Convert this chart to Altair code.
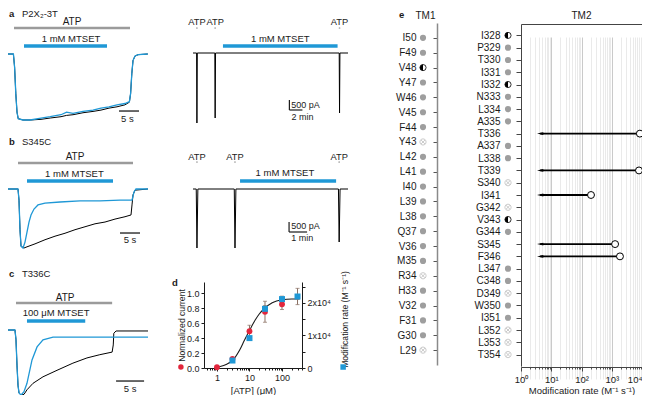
import altair as alt
import pandas as pd

# ------------------------------------------------------------------ data
# a (left) P2X2-3T : current (fraction of peak) vs time (s)
A_T = [0, 2.1, 2.4, 2.7, 3.0, 3.3, 4.5, 6.3, 9, 11.3, 14, 15.4, 17, 19.5, 22, 24, 26, 28, 30, 31.1, 31.4, 31.7, 32.0, 32.5, 33.3, 35.7]
A_BLUE = [0, 0, -0.2, -0.6, -0.88, -0.98, -1.0, -1.0, -0.97, -0.95, -0.92, -0.88, -0.9, -0.87, -0.85, -0.82, -0.8, -0.77, -0.75, -0.72, -0.6, -0.3, -0.1, -0.03, -0.01, 0]
A_BLACK = [0, 0, -0.2, -0.6, -0.88, -0.98, -1.0, -1.0, -0.99, -0.97, -0.95, -0.93, -0.92, -0.89, -0.87, -0.85, -0.82, -0.8, -0.77, -0.73, -0.6, -0.3, -0.1, -0.03, -0.01, 0]
A_ATP = [2.25, 31.25]
A_MTSET = [4.75, 25.5]

# a (right): current (pA) vs time (min)
AR_T = [0, 0.55, 0.6, 0.66, 3.35, 3.4, 3.46, 22.45, 22.5, 22.56, 23.8]
AR_I = [0, 0, -3500, 0, 0, -3250, 0, 0, -3000, 0, 0]
AR_ATP = [0.6, 3.4, 22.5]
AR_MTSET = [4.6, 22.2]

# b (left) S345C
B_T_BLUE = [0, 3.5, 3.75, 4.0, 4.25, 4.75, 5.25, 5.75, 6.25, 6.75, 7.5, 8.5, 10.25, 14, 19, 24, 29, 32, 32.25, 32.5, 33, 36]
B_BLUE = [0, 0, -0.19, -0.69, -0.97, -1.0, -0.9, -0.73, -0.56, -0.44, -0.34, -0.27, -0.24, -0.22, -0.2, -0.2, -0.19, -0.19, -0.12, -0.05, 0, 0]
B_T_BLACK = [0, 3.5, 3.75, 4.0, 4.25, 5.0, 5.75, 7.75, 10.25, 12.75, 15.25, 17.75, 20.25, 22.75, 25.25, 27.75, 30.25, 31.75, 32.0, 32.25, 32.75, 36]
B_BLACK = [0, 0, -0.19, -0.69, -0.97, -1.0, -0.98, -0.93, -0.86, -0.8, -0.75, -0.69, -0.64, -0.59, -0.56, -0.51, -0.47, -0.44, -0.27, -0.1, -0.02, 0]
B_ATP = [3.5, 32.25]
B_MTSET = [5.75, 27.25]

# b (right)
BR_T = [0, 0.18, 0.22, 0.27, 2.29, 2.33, 2.38, 8.07, 8.11, 8.16, 8.6]
BR_I = [0, 0, -2950, 0, 0, -2950, 0, 0, -2650, 0, 0]
BR_ATP = [0.22, 2.33, 8.11]
BR_MTSET = [2.61, 7.94]

# c T336C
C_T_BLUE = [0, 1.96, 2.14, 2.32, 2.5, 2.68, 3.04, 3.57, 4.1, 5.0, 5.9, 6.96, 8.75, 13.6, 19.3, 25.7]
C_BLUE = [0, 0, -0.15, -0.54, -0.85, -0.97, -1.0, -0.95, -0.82, -0.46, -0.26, -0.15, -0.11, -0.11, -0.11, -0.11]
C_T_BLACK = [0, 1.96, 2.14, 2.32, 2.5, 2.68, 3.04, 3.57, 4.1, 5.18, 6.96, 9.46, 12.3, 14.8, 17.1, 19.3, 19.5, 19.6, 20.0, 25.7]
C_BLACK = [0, 0, -0.15, -0.54, -0.85, -0.97, -1.0, -0.99, -0.92, -0.82, -0.72, -0.62, -0.51, -0.43, -0.38, -0.34, -0.23, -0.05, -0.015, -0.015]
C_ATP = [2.14, 19.3]
C_MTSET = [4.1, 14.5]

# d dose response
CUR_ATP = [1, 3, 10, 30, 100]
CUR_VAL = [0.01, 0.12, 0.49, 0.75, 0.85]
CUR_ERR = [0.0, 0.02, 0.08, 0.14, 0.07]
RATE_ATP = [3, 10, 30, 100, 300]
RATE_VAL = [2300, 9200, 18200, 21200, 22000]
RATE_ERR = [0, 0, 1000, 900, 2500]
FIT_ATP = [0.9, 1, 2, 3, 5, 7, 10, 15, 20, 30, 50, 100, 200, 350]
FIT_VAL = [0.005, 0.01, 0.05, 0.1, 0.24, 0.37, 0.5, 0.64, 0.72, 0.8, 0.87, 0.91, 0.92, 0.92]
D_MINOR = [0.5, 0.6, 0.7, 0.8, 0.9, 2, 3, 4, 5, 6, 7, 8, 9, 20, 30, 40, 50, 60, 70, 80, 90, 200, 300, 400]

# e  residues (f filled, h half, x crossed, n none)
TM1_RES = ["I50", "F49", "V48", "Y47", "W46", "V45", "F44", "Y43", "L42", "L41", "I40",
           "L39", "L38", "Q37", "V36", "M35", "R34", "H33", "V32", "F31", "G30", "L29"]
TM1_KIND = ["f", "f", "h", "f", "f", "f", "f", "x", "f", "f", "f",
            "f", "f", "f", "f", "f", "x", "f", "f", "f", "f", "x"]
TM2_RES = ["I328", "P329", "T330", "I331", "I332", "N333", "L334", "A335", "T336", "A337",
           "L338", "T339", "S340", "I341", "G342", "V343", "G344", "S345", "F346", "L347",
           "C348", "D349", "W350", "I351", "L352", "L353", "T354"]
TM2_KIND = ["h", "f", "f", "f", "h", "f", "f", "f", "n", "f",
            "f", "n", "x", "n", "x", "h", "f", "n", "n", "f",
            "f", "x", "f", "f", "x", "x", "x"]
RATE_RES = ["T336", "T339", "I341", "S345", "F346"]
RATE_E = [8500, 7950, 206, 1290, 1870]
ARROW_END = 4.3
E_MINOR = [m * 10 ** k for k in range(4) for m in range(2, 10)]

# ------------------------------------------------------------------ style
FONT = "Liberation Sans"
BLUE = "#1f98d6"
RED = "#e2263c"
GREY = "#9b9b9b"
INK = "#1a1a1a"
M = 8
W, H = 634, 387


def P(v):
    return v - M


def lin(domain, r0, r1):
    return alt.Scale(type="linear", domain=domain, range=[P(r0), P(r1)], nice=False, zero=False)


def logs(domain, r0, r1):
    return alt.Scale(type="log", domain=domain, range=[P(r0), P(r1)], nice=False)


def XY(xs, ys, xa=None, ya=None, xf="x", yf="y", yt="Q"):
    return dict(x=alt.X(f"{xf}:Q", scale=xs, axis=xa), y=alt.Y(f"{yf}:{yt}", scale=ys, axis=ya))


def line(xs, ys, xv, yv, color, width, interp="linear", xa=None, ya=None):
    df = pd.DataFrame({"x": xv, "y": yv, "i": list(range(len(xv)))})
    return alt.Chart(df).mark_line(color=color, strokeWidth=width, interpolate=interp).encode(
        order="i:Q", **XY(xs, ys, xa, ya))


def seg(xs, ys, x0, x1, y0, y1, color, width):
    df = pd.DataFrame({"x": x0, "x2": x1, "y": y0, "y2": y1})
    return alt.Chart(df).mark_rule(color=color, strokeWidth=width).encode(
        x2="x2:Q", y2="y2:Q", **XY(xs, ys))


def txt(xs, ys, xv, yv, s, size=9.5, align="center", weight="normal", color=INK):
    df = pd.DataFrame({"x": xv, "y": yv, "s": s})
    return alt.Chart(df).mark_text(font=FONT, fontSize=size, align=align, baseline="middle",
                                   fontWeight=weight, color=color).encode(text="s:N", **XY(xs, ys))


def dots(xs, ys, xv, yv):
    df = pd.DataFrame({"x": xv, "y": yv})
    return alt.Chart(df).mark_point(filled=True, size=3, color="#777").encode(**XY(xs, ys))


layers = []

# ------------------------------------------------------------------ a left
xa = lin([0, 36], 5, 149)
ya = lin([-1, 0], 120, 54)
layers += [
    line(xa, ya, A_T, A_BLACK, "black", 1.0),
    line(xa, ya, A_T, A_BLUE, BLUE, 1.3),
    seg(xa, ya, [A_ATP[0]], [A_ATP[1]], [0.394], [0.394], GREY, 2.5),
    seg(xa, ya, [A_MTSET[0]], [A_MTSET[1]], [0.121], [0.121], BLUE, 3.5),
    seg(xa, ya, [28.5], [33.5], [-0.864], [-0.864], INK, 1.3),
    txt(xa, ya, [16.75], [0.485], ["ATP"], size=10),
    txt(xa, ya, [16.5, 30.6], [0.227, -0.985], ["1 mM MTSET", "5 s"]),
    txt(xa, ya, [1.0], [0.6], ["a"], weight="bold", align="left"),
    txt(xa, ya, [4.25], [0.6], ["P2X₂-3T"], align="left"),
]

# ------------------------------------------------------------------ a right
xar = lin([0, 23.8], 193, 348)
yar = lin([-3500, 0], 123, 53)
layers += [
    line(xar, yar, AR_T, AR_I, "black", 1.0),
    seg(xar, yar, [AR_MTSET[0]], [AR_MTSET[1]], [350], [350], BLUE, 3.5),
    seg(xar, yar, [14.8, 14.8], [14.8, 16.8], [-2850, -2850], [-2350, -2850], INK, 1.2),
    txt(xar, yar, AR_ATP, [1550] * 3, ["ATP"] * 3, size=9.3),
    dots(xar, yar, AR_ATP, [1250] * 3),
    txt(xar, yar, [13.4], [700], ["1 mM MTSET"]),
    txt(xar, yar, [15.1], [-2600], ["500 pA"], size=9, align="left"),
    txt(xar, yar, [16.8], [-3200], ["2 min"], size=9),
]

# ------------------------------------------------------------------ b left
xb = lin([0, 36], 4, 148)
yb = lin([-1, 0], 248, 189)
layers += [
    line(xb, yb, B_T_BLACK, B_BLACK, "black", 1.0),
    line(xb, yb, B_T_BLUE, B_BLUE, BLUE, 1.3),
    seg(xb, yb, [B_ATP[0]], [B_ATP[1]], [0.44], [0.44], GREY, 2.5),
    seg(xb, yb, [B_MTSET[0]], [B_MTSET[1]], [0.136], [0.136], BLUE, 3.5),
    seg(xb, yb, [29], [34], [-0.746], [-0.746], INK, 1.3),
    txt(xb, yb, [17.75], [0.54], ["ATP"], size=10),
    txt(xb, yb, [17.6, 31.5], [0.254, -0.864], ["1 mM MTSET", "5 s"]),
    txt(xb, yb, [1.25], [0.797], ["b"], weight="bold", align="left"),
    txt(xb, yb, [4.5], [0.797], ["S345C"], align="left"),
]

# ------------------------------------------------------------------ b right
xbr = lin([0, 8.6], 193, 348)
ybr = lin([-3000, 0], 249, 189)
layers += [
    line(xbr, ybr, BR_T, BR_I, "black", 1.0),
    seg(xbr, ybr, [BR_MTSET[0]], [BR_MTSET[1]], [400], [400], BLUE, 3.5),
    seg(xbr, ybr, [5.33, 5.33], [5.33, 6.33], [-2150, -2150], [-1650, -2150], INK, 1.2),
    txt(xbr, ybr, BR_ATP, [1600] * 3, ["ATP"] * 3, size=9.3),
    dots(xbr, ybr, BR_ATP, [1350] * 3),
    txt(xbr, ybr, [5.1], [800], ["1 mM MTSET"]),
    txt(xbr, ybr, [5.45], [-1850], ["500 pA"], size=9, align="left"),
    txt(xbr, ybr, [6.06], [-2450], ["1 min"], size=9),
]

# ------------------------------------------------------------------ c
xc = lin([0, 25.7], 4, 148)
yc = lin([-1, 0], 395, 330)
layers += [
    line(xc, yc, C_T_BLACK, C_BLACK, "black", 1.0),
    line(xc, yc, C_T_BLUE, C_BLUE, BLUE, 1.3),
    seg(xc, yc, [C_ATP[0]], [C_ATP[1]], [0.415], [0.415], GREY, 2.5),
    seg(xc, yc, [C_MTSET[0]], [C_MTSET[1]], [0.138], [0.138], BLUE, 3.5),
    seg(xc, yc, [20], [25], [-0.785], [-0.785], INK, 1.3),
    txt(xc, yc, [10.9], [0.49], ["ATP"], size=10),
    txt(xc, yc, [9.3, 22.5], [0.26, -0.91], ["100 μM MTSET", "5 s"]),
    txt(xc, yc, [0.9], [0.86], ["c"], weight="bold", align="left"),
    txt(xc, yc, [3.2], [0.86], ["T336C"], align="left"),
]

# ------------------------------------------------------------------ d
xd = logs([0.4, 412], 204, 302)
yd = lin([0, 1.147], 368, 282)
yd2 = lin([0, 26460], 368, 282)
d_xaxis = alt.Axis(orient="bottom", offset=P(368) - H, values=[1, 10, 100], format="d", tickSize=3,
                   labelPadding=2, labelFlush=False, labelFontSize=9, title="[ATP] (μM)", titlePadding=3)
d_yaxis = alt.Axis(orient="left", offset=-P(204), values=[0, 0.2, 0.4, 0.6, 0.8, 1.0], format=".1f",
                   tickSize=3, labelPadding=2, labelFontSize=9, title="Normalized current", titleAngle=270,
                   titleFontSize=8.6, titleX=P(181) - P(204), titleY=P(325), titleBaseline="middle",
                   titleAlign="center")
layers.append(line(xd, yd, FIT_ATP, FIT_VAL, INK, 1.1, interp="monotone", xa=d_xaxis, ya=d_yaxis))

cur_df = pd.DataFrame({"x": CUR_ATP, "y": CUR_VAL, "lo": [v - e for v, e in zip(CUR_VAL, CUR_ERR)],
                       "hi": [v + e for v, e in zip(CUR_VAL, CUR_ERR)], "e": CUR_ERR})
rate_df = pd.DataFrame({"x": RATE_ATP, "y": RATE_VAL, "lo": [v - e for v, e in zip(RATE_VAL, RATE_ERR)],
                        "hi": [v + e for v, e in zip(RATE_VAL, RATE_ERR)], "e": RATE_ERR})
ERRC = "#8a6f62"
for df, ys in ((cur_df, yd), (rate_df, yd2)):
    dfe = df[df["e"] > 0]
    layers.append(alt.Chart(dfe).mark_rule(color=ERRC, strokeWidth=1).encode(
        x=alt.X("x:Q", scale=xd, axis=None), y=alt.Y("lo:Q", scale=ys, axis=None), y2="hi:Q"))
    for col in ("lo", "hi"):
        layers.append(alt.Chart(dfe).mark_point(shape="stroke", size=16, color=ERRC, strokeWidth=1).encode(
            x=alt.X("x:Q", scale=xd, axis=None), y=alt.Y(f"{col}:Q", scale=ys, axis=None)))

layers.append(alt.Chart(cur_df).mark_point(filled=True, shape="circle", size=34, color=RED, opacity=1).encode(
    x=alt.X("x:Q", scale=xd, axis=alt.Axis(orient="bottom", offset=P(368) - H, values=D_MINOR, labels=False,
                                           tickSize=2, domain=False, title=None)),
    y=alt.Y("y:Q", scale=yd, axis=None)))
layers.append(alt.Chart(rate_df).mark_point(filled=True, shape="square", size=36, color=BLUE, opacity=1).encode(
    x=alt.X("x:Q", scale=xd, axis=None),
    y=alt.Y("y:Q", scale=yd2, axis=alt.Axis(
        orient="right", offset=P(302) - W, values=[0, 5000, 10000, 15000, 20000, 25000],
        labelExpr="datum.value == 0 ? '0' : datum.value == 10000 ? '1x10⁴' : datum.value == 20000 ? '2x10⁴' : ''",
        tickSize=3, labelPadding=2, labelFontSize=9, title="Modification rate (M⁻¹ s⁻¹)", titleAngle=270,
        titleFontSize=8.6, titleX=P(344) - P(302), titleY=P(319), titleBaseline="middle",
        titleAlign="center"))))
# legend-like markers at the start of the axis titles, and panel letter
layers.append(alt.Chart(pd.DataFrame({"x": [0.078], "y": [0.013]})).mark_point(
    filled=True, size=30, color=RED, opacity=1).encode(**XY(xd, yd)))
layers.append(alt.Chart(pd.DataFrame({"x": [7570], "y": [0.013]})).mark_point(
    filled=True, shape="square", size=30, color=BLUE, opacity=1).encode(**XY(xd, yd)))
layers.append(txt(xd, yd, [0.0414], [1.133], ["d"], weight="bold", align="left"))

# ------------------------------------------------------------------ e  TM1
HALF = "M0,-1A1,1,0,0,0,0,1Z"
CROSS = "M1,0A1,1,0,1,1,-1,0A1,1,0,1,1,1,0ZM-0.7,-0.7L0.7,0.7M-0.7,0.7L0.7,-0.7"
SYM = 38


def symbol_layers(res, kind, ys, xs, yaxis=None, xaxis=None):
    df = pd.DataFrame({"y": res, "k": kind, "x": [0] * len(res)})
    out = []
    f = df[df.k == "f"]
    out.append(alt.Chart(f).mark_point(filled=True, shape="circle", size=SYM, color="#9e9e9e", opacity=1).encode(
        **XY(xs, ys, xaxis, yaxis, yt="N")))
    h = df[df.k == "h"]
    out.append(alt.Chart(h).mark_point(filled=True, shape="circle", size=SYM, fill="white", stroke="black",
                                       strokeWidth=0.8, opacity=1).encode(**XY(xs, ys, yt="N")))
    out.append(alt.Chart(h).mark_point(filled=True, shape=HALF, size=SYM, color="black", opacity=1).encode(
        **XY(xs, ys, yt="N")))
    x = df[df.k == "x"]
    out.append(alt.Chart(x).mark_point(filled=False, shape=CROSS, size=SYM, color="#bdbdbd", strokeWidth=0.8,
                                       opacity=1).encode(**XY(xs, ys, yt="N")))
    return out


ye1 = alt.Scale(type="point", domain=TM1_RES, range=[P(23), P(365)], padding=1.0)
xe1 = lin([0, 1], 423, 437)
tm1_y = alt.Axis(orient="left", offset=-P(437), tickSize=4, labelPadding=17, domainColor="#8a8a8a",
                 domainWidth=1.5, tickColor="#555555", title=None, labelFontSize=10)
tm1_x = alt.Axis(orient="top", offset=-P(21), domain=False, ticks=False, labels=False, title="TM1",
                 titleX=P(425), titleY=P(15) - P(21), titleBaseline="middle", titleFontSize=10)
layers += symbol_layers(TM1_RES, TM1_KIND, ye1, xe1, tm1_y, tm1_x)

# ------------------------------------------------------------------ e  TM2
xe2 = logs([1, 10000], 521, 642)
ye2 = alt.Scale(type="point", domain=TM2_RES, range=[P(24), P(366)], padding=0.93)
rate_e = pd.DataFrame({"y": RATE_RES, "x": RATE_E, "x2": [ARROW_END] * len(RATE_E)})
minor_axis = alt.Axis(orient="bottom", offset=P(367) - H, values=E_MINOR, labels=False, tickSize=2,
                      domain=False, title=None, grid=True, gridColor="#e4e4e4", gridWidth=0.8,
                      tickColor="#555555")
major_axis = alt.Axis(orient="bottom", offset=P(367) - H, values=[1, 10, 100, 1000, 10000],
                      labelExpr="'10' + ['⁰','¹','²','³','⁴'][round(log(datum.value) / LN10)]",
                      labelFlush=False,
                      labelAlign={"condition": {"test": "datum.value == 10000", "value": "right"},
                                  "value": "center"},
                      tickSize=4, labelPadding=3, grid=True, gridColor="#bcbcbc",
                      gridWidth=0.8, domainColor="#444444", tickColor="#444444",
                      title="Modification rate (M⁻¹ s⁻¹)", titlePadding=2)
tm2_y = alt.Axis(orient="left", offset=-P(521), tickSize=5, labelPadding=16, domainColor="#444444",
                 tickColor="#444444", title=None, labelFontSize=10)
top_axis = alt.Axis(orient="top", offset=-P(24), ticks=False, labels=False, domainColor="#444444",
                    title="TM2", titleX=P(581), titleY=P(15) - P(24), titleBaseline="middle", titleFontSize=10)

layers.append(alt.Chart(rate_e).mark_rule(color="black", strokeWidth=1.8).encode(
    x=alt.X("x:Q", scale=xe2, axis=minor_axis), x2="x2:Q", y=alt.Y("y:N", scale=ye2, axis=None)))
layers.append(alt.Chart(rate_e).mark_point(filled=True, shape="M-1,0L1,-0.45L1,0.45Z", size=40,
                                           color="black", opacity=1).encode(
    x=alt.X("x2:Q", scale=xe2, axis=top_axis), y=alt.Y("y:N", scale=ye2, axis=None)))
layers.append(alt.Chart(rate_e).mark_point(filled=True, shape="circle", size=48, fill="white",
                                           stroke="black", strokeWidth=1, opacity=1).encode(
    x=alt.X("x:Q", scale=xe2, axis=major_axis), y=alt.Y("y:N", scale=ye2, axis=tm2_y)))
xe2s = lin([0, 1], 508, 518)
layers += symbol_layers(TM2_RES, TM2_KIND, ye2, xe2s)
layers.append(txt(xe2s, lin([0, 1], 15, 0), [-10.9], [0], ["e"], weight="bold", align="left"))

chart = (
    alt.layer(*layers)
    .resolve_scale(x="independent", y="independent")
    .properties(width=W, height=H, autosize=alt.AutoSizeParams(type="none"), padding=0, background="white")
    .configure_view(stroke=None)
    .configure_axis(labelFont=FONT, titleFont=FONT, labelColor=INK, titleColor=INK, labelFontSize=9.5,
                    titleFontSize=9.5, titleFontWeight="normal", domainColor=INK, tickColor=INK, grid=False)
)
chart.save("out.html", embed_options={"renderer": "svg", "actions": False})
